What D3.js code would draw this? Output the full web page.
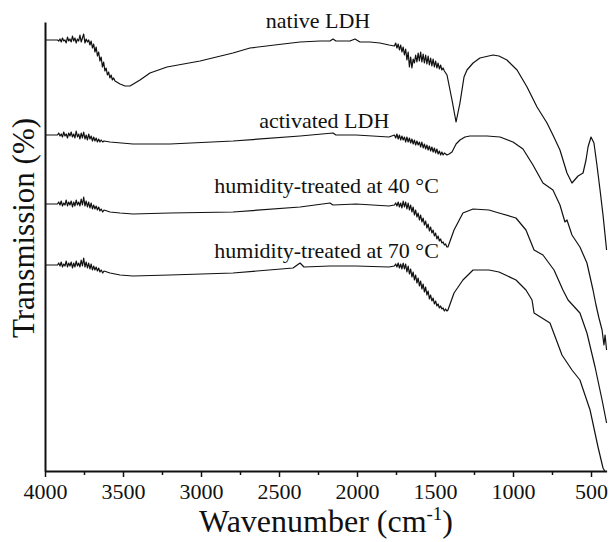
<!DOCTYPE html>
<html>
<head>
<meta charset="utf-8">
<script src="https://cdn.jsdelivr.net/npm/d3@7"></script>
<style>
  html, body { margin: 0; padding: 0; background: #fff; }
  svg text { font-family: "Liberation Serif", "Times New Roman", serif; fill: #111; }
</style>
</head>
<body>
<svg id="chart" width="612" height="542"></svg>
<script>
// ---- data: [wavenumber (cm-1), transmission (a.u., offset per trace)] ----
const native = [[4000,431],[3936,431],[3920,431],[3912,430],[3904,432],[3896,429],[3888,433],[3880,430],[3872,431],[3864,428],[3856,434],[3848,430],[3840,432],[3832,429],[3824,435],[3816,430],[3808,433],[3800,428],[3792,432],[3784,430],[3776,436],[3768,429],[3760,433],[3752,437],[3744,428],[3736,432],[3728,429],[3720,431],[3712,426],[3704,430],[3696,423],[3688,427],[3680,419],[3672,424],[3664,415],[3656,419],[3648,410],[3640,414],[3632,404],[3624,409],[3616,400],[3608,403],[3600,396],[3592,399],[3584,393],[3576,396],[3568,391],[3560,393],[3551,390],[3519,387],[3487,385],[3455,385],[3391,391],[3327,398],[3218,404],[3006,410],[2795,418],[2686,423],[2474,427],[2365,429],[2237,430],[2173,430],[2154,432],[2135,430],[2045,430],[2013,432],[1981,429],[1917,429],[1853,428],[1795,426],[1760,425],[1752,428],[1744,423],[1736,427],[1728,421],[1720,426],[1712,419],[1704,424],[1696,416],[1688,422],[1680,411],[1672,419],[1664,404],[1656,414],[1648,403],[1640,412],[1632,408],[1624,416],[1616,409],[1608,418],[1600,410],[1592,419],[1584,409],[1576,417],[1568,408],[1560,416],[1552,407],[1544,415],[1536,406],[1528,413],[1520,405],[1512,412],[1504,404],[1496,410],[1488,403],[1480,408],[1472,402],[1464,406],[1456,401],[1448,403],[1440,400],[1423,396],[1391,371],[1365,349],[1340,368],[1314,394],[1295,401],[1256,408],[1212,413],[1128,416],[1090,415],[1039,411],[974,401],[910,384],[846,364],[782,348],[744,336],[699,321],[654,298],[622,288],[583,295],[551,298],[532,311],[519,324],[500,334],[481,328],[462,306],[442,281],[423,256],[400,221]];

const activated = [[4000,336],[3936,336],[3920,336],[3912,338],[3904,335],[3896,337],[3888,334],[3880,339],[3872,335],[3864,337],[3856,333],[3848,338],[3840,335],[3832,339],[3824,334],[3816,337],[3808,333],[3800,340],[3792,334],[3784,337],[3776,332],[3768,338],[3760,333],[3752,339],[3744,332],[3736,336],[3728,331],[3720,337],[3712,332],[3704,335],[3696,330],[3688,334],[3680,330],[3672,333],[3664,329],[3656,332],[3648,329],[3640,331],[3630,329],[3622,330],[3583,329],[3436,327],[3199,327],[2795,330],[2365,335],[2154,338],[2135,336],[2006,336],[1795,334],[1760,336],[1752,333],[1744,337],[1736,332],[1728,336],[1720,331],[1712,335],[1704,331],[1696,334],[1688,329],[1680,334],[1672,329],[1664,333],[1656,328],[1648,332],[1640,327],[1632,331],[1624,326],[1616,330],[1608,326],[1600,329],[1592,324],[1584,329],[1576,323],[1568,327],[1560,322],[1552,326],[1544,321],[1536,325],[1528,320],[1520,324],[1512,319],[1504,323],[1496,318],[1488,322],[1480,317],[1472,320],[1464,316],[1456,319],[1448,316],[1440,318],[1423,316],[1410,317],[1391,319],[1365,327],[1340,331],[1308,334],[1276,335],[1167,335],[1083,334],[1000,329],[936,322],[872,306],[808,288],[744,281],[699,266],[667,249],[654,251],[622,236],[571,224],[526,208],[487,181],[468,166],[449,153],[429,141],[417,126],[410,136],[400,121]];

const humid40 = [[4000,267],[3936,267],[3920,267],[3912,269],[3904,266],[3896,270],[3888,265],[3880,268],[3872,266],[3864,271],[3856,265],[3848,269],[3840,266],[3832,270],[3824,264],[3816,269],[3808,265],[3800,271],[3792,266],[3784,269],[3776,265],[3768,272],[3760,266],[3752,274],[3744,265],[3736,270],[3728,264],[3720,269],[3712,263],[3704,268],[3696,262],[3688,266],[3680,262],[3672,265],[3664,261],[3656,264],[3648,260],[3640,262],[3630,259],[3622,261],[3583,259],[3519,258],[3436,257],[3199,258],[2795,259],[2365,264],[2173,268],[2154,266],[2006,267],[1795,265],[1760,266],[1752,268],[1744,265],[1736,269],[1728,264],[1720,268],[1712,263],[1704,270],[1696,264],[1688,269],[1680,262],[1672,268],[1664,261],[1656,266],[1648,259],[1640,264],[1632,256],[1624,261],[1616,254],[1608,258],[1600,251],[1592,256],[1584,249],[1576,253],[1568,246],[1560,250],[1552,243],[1544,247],[1536,240],[1528,244],[1520,238],[1512,241],[1504,235],[1496,238],[1488,232],[1480,235],[1472,230],[1464,232],[1456,228],[1448,229],[1440,226],[1432,227],[1424,224],[1417,224],[1378,241],[1321,258],[1256,262],[1154,261],[1090,258],[981,253],[917,241],[865,221],[808,216],[737,201],[680,181],[647,171],[571,158],[526,138],[474,104],[429,71],[400,48]];

const humid70 = [[4000,206],[3936,206],[3920,206],[3912,208],[3904,205],[3896,209],[3888,204],[3880,207],[3872,205],[3864,210],[3856,204],[3848,208],[3840,205],[3832,209],[3824,203],[3816,208],[3808,204],[3800,210],[3792,205],[3784,208],[3776,204],[3768,211],[3760,205],[3752,213],[3744,204],[3736,209],[3728,203],[3720,208],[3712,202],[3704,207],[3696,201],[3688,205],[3680,201],[3672,204],[3664,200],[3656,203],[3648,199],[3640,201],[3630,198],[3622,200],[3583,198],[3519,196],[3436,195],[3199,196],[2795,198],[2410,203],[2365,208],[2340,204],[2173,205],[2006,205],[1795,204],[1760,205],[1752,207],[1744,204],[1736,208],[1728,203],[1720,207],[1712,202],[1704,208],[1696,202],[1688,207],[1680,199],[1672,205],[1664,197],[1656,202],[1648,194],[1640,199],[1632,191],[1624,196],[1616,188],[1608,193],[1600,185],[1592,190],[1584,182],[1576,187],[1568,179],[1560,184],[1552,176],[1544,180],[1536,172],[1528,176],[1520,170],[1512,173],[1504,167],[1496,170],[1488,165],[1480,167],[1472,163],[1464,165],[1456,162],[1448,163],[1440,160],[1432,162],[1424,160],[1417,161],[1378,178],[1321,191],[1256,201],[1154,201],[1090,199],[981,191],[917,181],[878,171],[865,158],[763,148],[686,116],[622,101],[571,91],[506,61],[455,24],[423,3],[412,0]];

const seriesNames = ["native LDH", "activated LDH", "humidity-treated at 40 °C", "humidity-treated at 70 °C"];
const seriesData = [native, activated, humid40, humid70];
// label anchor values [wavenumber, transmission]
const labelPos = [[2250,443],[2210,343],[2195,278],[2195,213]];

const majorTicks = [4000,3500,3000,2500,2000,1500,1000,500];
const minorTicks = [3750,3250,2750,2250,1750,1250,750];

// ---- layout ----
const svg = d3.select("#chart");
const x = d3.scaleLinear().domain([4000, 400]).range([45, 606.6]);
const y = d3.scaleLinear().domain([0, 449]).range([471, 22]);

const line = d3.line().x(d => x(d[0])).y(d => y(d[1]));

svg.append("g").selectAll("path").data(seriesData).join("path")
  .attr("d", line)
  .attr("fill", "none")
  .attr("stroke", "#111")
  .attr("stroke-width", 1.2)
  .attr("stroke-linejoin", "round");

// x axis
const xAxis = svg.append("g").attr("transform", "translate(0,471)")
  .call(d3.axisBottom(x).tickValues(majorTicks).tickFormat(d3.format("d")).tickSize(6).tickSizeOuter(0).tickPadding(6));
xAxis.select(".domain").attr("stroke", "#111").attr("stroke-width", 2);
xAxis.selectAll(".tick line").attr("stroke", "#111").attr("stroke-width", 1.5);
xAxis.selectAll(".tick text").attr("font-size", 22).attr("font-family", "Liberation Serif, serif").attr("fill", "#111");

const xMinor = svg.append("g").attr("transform", "translate(0,471)")
  .call(d3.axisBottom(x).tickValues(minorTicks).tickFormat("").tickSize(4).tickSizeOuter(0));
xMinor.select(".domain").remove();
xMinor.selectAll(".tick line").attr("stroke", "#111").attr("stroke-width", 1.5);

// y axis (line only)
const yAxis = svg.append("g").attr("transform", "translate(45,0)")
  .call(d3.axisLeft(y).tickValues([]).tickSizeOuter(0));
yAxis.select(".domain").attr("stroke", "#111").attr("stroke-width", 2);

// axis titles
const xt = svg.append("text").attr("x", 326).attr("y", 532).attr("text-anchor", "middle").attr("font-size", 32);
xt.append("tspan").text("Wavenumber (cm");
xt.append("tspan").attr("font-size", 19).attr("dy", -12).text("-1");
xt.append("tspan").attr("dy", 12).text(")");

svg.append("text").attr("transform", "translate(34,228) rotate(-90)")
  .attr("text-anchor", "middle").attr("font-size", 31).text("Transmission (%)");

// curve labels
svg.append("g").selectAll("text").data(seriesNames).join("text")
  .attr("x", (d, i) => x(labelPos[i][0]))
  .attr("y", (d, i) => y(labelPos[i][1]))
  .attr("text-anchor", "middle")
  .attr("font-size", 22)
  .text(d => d);
</script>
</body>
</html>
